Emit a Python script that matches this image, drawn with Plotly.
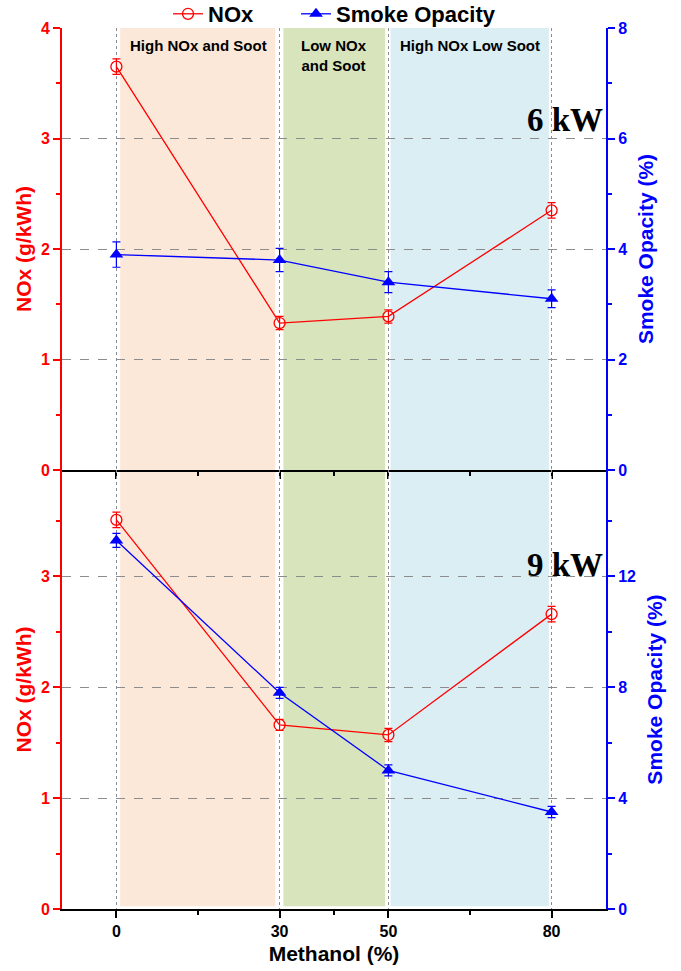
import plotly.graph_objects as go

# Methanol substitution levels (%)
methanol = [0, 30, 50, 80]

# 6 kW load
nox_6 = [3.65, 1.33, 1.39, 2.35]
nox_6_err = [0.07, 0.06, 0.06, 0.07]
smoke_6 = [3.9, 3.8, 3.4, 3.1]
smoke_6_err = [0.23, 0.21, 0.19, 0.16]

# 9 kW load
nox_9 = [3.51, 1.66, 1.57, 2.66]
nox_9_err = [0.07, 0.05, 0.06, 0.07]
smoke_9 = [13.3, 7.8, 5.0, 3.5]
smoke_9_err = [0.25, 0.2, 0.2, 0.2]

# Combustion regimes shaded across both panels
regions = [
    dict(x0=0.7, x1=29.2, color="#FCE8D9", label="High NOx and Soot", xc=15),
    dict(x0=30.7, x1=49.4, color="#D8E4BC", label="Low NOx<br>and Soot", xc=40),
    dict(x0=50.4, x1=79.5, color="#DAEEF3", label="High NOx Low Soot", xc=65),
]

RED = "#FF0000"
BLUE = "#0000FF"
SANS = "Liberation Sans"
PLOT_W = 681 - 62 - 75
PLOT_H = 971 - 28 - 62

fig = go.Figure()


def nox_trace(y, err, xa, ya, show):
    return go.Scatter(
        x=methanol, y=y, xaxis=xa, yaxis=ya, name="NOx", showlegend=show,
        legendgroup="nox", legend="legend", mode="lines+markers",
        line=dict(color=RED, width=1.3),
        marker=dict(symbol="circle-open", size=11, color=RED, line=dict(width=1.3)),
        error_y=dict(type="data", array=err, color=RED, thickness=1.2, width=4),
    )


def smoke_trace(y, err, xa, ya, show):
    return go.Scatter(
        x=methanol, y=y, xaxis=xa, yaxis=ya, name="Smoke Opacity", showlegend=show,
        legendgroup="smoke", legend="legend2", mode="lines+markers",
        line=dict(color=BLUE, width=1.3),
        marker=dict(symbol="triangle-up", size=12, color=BLUE),
        error_y=dict(type="data", array=err, color=BLUE, thickness=1.2, width=4),
    )


fig.add_trace(nox_trace(nox_6, nox_6_err, "x", "y", True))
fig.add_trace(smoke_trace(smoke_6, smoke_6_err, "x", "y2", True))
fig.add_trace(nox_trace(nox_9, nox_9_err, "x2", "y3", False))
fig.add_trace(smoke_trace(smoke_9, smoke_9_err, "x2", "y4", False))

split = 439 / PLOT_H
xticks = dict(tickvals=methanol, ticktext=[str(v) for v in methanol])
minor_x = dict(tickvals=[15, 40, 65], ticks="outside", ticklen=4, tickcolor="black", showgrid=False)

common_x = dict(range=[-10, 90], showline=True, linecolor="black", linewidth=2,
                ticks="outside", ticklen=7, tickwidth=1.5, tickcolor="black",
                zeroline=False, showgrid=True, gridcolor="#8c8c8c", griddash="dot",
                gridwidth=1, **xticks)


def left_axis(domain, anchor, rng, ticks):
    return dict(domain=domain, anchor=anchor, range=rng, tickvals=ticks,
                showline=True, linecolor=RED, linewidth=2, ticks="outside", ticklen=7,
                tickwidth=1.5, tickcolor=RED,
                minor=dict(tickvals=[0.5, 1.5, 2.5, 3.5], ticks="outside", ticklen=4, tickcolor=RED),
                tickfont=dict(family=SANS, size=16, color=RED, weight="bold"),
                showgrid=True, gridcolor="#8c8c8c", griddash="dash", gridwidth=1, zeroline=False,
                title=dict(text="NOx (g/kWh)", standoff=4,
                           font=dict(family=SANS, size=21, color=RED, weight="bold")))


def right_axis(domain, anchor, over, rng, ticks, minor):
    return dict(domain=domain, anchor=anchor, overlaying=over, side="right", range=rng,
                tickvals=ticks, showline=True, linecolor=BLUE, linewidth=2,
                ticks="outside", ticklen=7, tickwidth=1.5, tickcolor=BLUE,
                minor=dict(tickvals=minor, ticks="outside", ticklen=4, tickcolor=BLUE),
                tickfont=dict(family=SANS, size=16, color=BLUE, weight="bold"),
                showgrid=False, zeroline=False,
                title=dict(text="Smoke Opacity (%)", standoff=12,
                           font=dict(family=SANS, size=21, color=BLUE, weight="bold")))


legend_font = dict(family=SANS, size=22, color="black", weight="bold")
legend_y = 1 + 14 / PLOT_H

fig.update_layout(
    width=681, height=971,
    margin=dict(l=62, r=75, t=28, b=62, autoexpand=False),
    plot_bgcolor="white", paper_bgcolor="white",
    font=dict(family=SANS, color="black"),
    showlegend=True,
    legend=dict(orientation="h", x=(168 - 62) / PLOT_W, xanchor="left", y=legend_y,
                yanchor="middle", font=legend_font, bgcolor="rgba(0,0,0,0)"),
    legend2=dict(orientation="h", x=(296 - 62) / PLOT_W, xanchor="left", y=legend_y,
                 yanchor="middle", font=legend_font, bgcolor="rgba(0,0,0,0)"),
    xaxis=dict(domain=[0, 1], anchor="y", showticklabels=False, minor=minor_x, **common_x),
    xaxis3=dict(domain=[0, 1], anchor="y", overlaying="x", side="top",
                range=[-10, 90], showline=True, linecolor="black", linewidth=2,
                ticks="inside", ticklen=7, tickwidth=1.5, tickcolor="black",
                showticklabels=False, showgrid=False, zeroline=False,
                minor=dict(tickvals=[15, 40, 65], ticks="inside", ticklen=4, tickcolor="black"),
                **xticks),
    xaxis2=dict(domain=[0, 1], anchor="y3", showticklabels=True,
                tickfont=dict(family=SANS, size=16, color="black", weight="bold"),
                title=dict(text="Methanol (%)", standoff=7,
                           font=dict(family=SANS, size=21, color="black", weight="bold")),
                minor=minor_x, **common_x),
    yaxis=left_axis([split, 1], "x", [0, 4], [0, 1, 2, 3, 4]),
    yaxis2=right_axis([split, 1], "x", "y", [0, 8], [0, 2, 4, 6, 8], [1, 3, 5, 7]),
    yaxis3=left_axis([0, split], "x2", [0, 3.96], [0, 1, 2, 3]),
    yaxis4=right_axis([0, split], "x2", "y3", [0, 15.84], [0, 4, 8, 12], [2, 6, 10, 14]),
)

# shaded regime bands and their labels
for r in regions:
    fig.add_shape(type="rect", xref="x", yref="paper", x0=r["x0"], x1=r["x1"], y0=0.003, y1=1,
                  fillcolor=r["color"], line=dict(width=0), layer="below")
    fig.add_annotation(x=r["xc"], xref="x", y=1 - 7 / PLOT_H, yref="paper", yanchor="top",
                       text=r["label"], showarrow=False, align="center",
                       font=dict(family=SANS, size=15, color="black", weight="bold"))

# load labels
for text, ypix in [("6 kW", 120), ("9 kW", 565)]:
    fig.add_annotation(x=1, xref="paper", xanchor="right", xshift=-1,
                       y=1 - (ypix - 28) / PLOT_H, yref="paper", yanchor="middle",
                       text=text, showarrow=False,
                       font=dict(family="Liberation Serif", size=33, color="black", weight="bold"))

fig.write_html("out.html")
